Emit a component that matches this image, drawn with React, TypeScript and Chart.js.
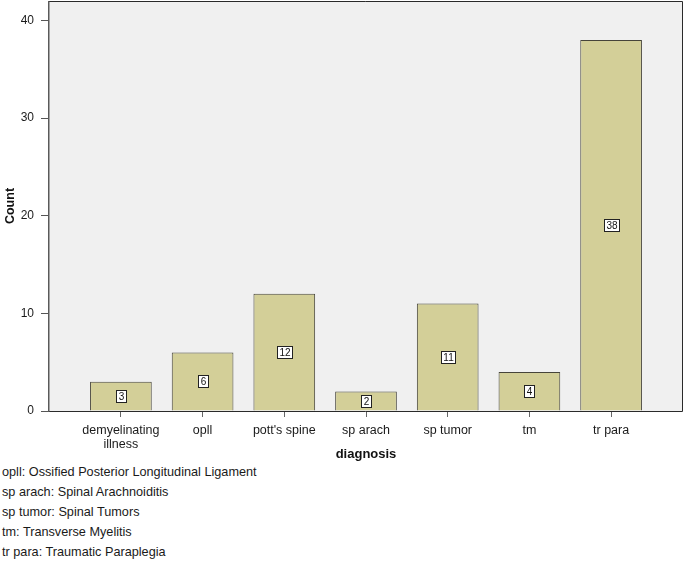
import React, { useEffect, useRef } from "react";
import { Chart, registerables } from "chart.js";

Chart.register(...registerables);

const categories: (string | string[])[] = [
  ["demyelinating", "illness"],
  "opll",
  "pott's spine",
  "sp arach",
  "sp tumor",
  "tm",
  "tr para",
];
const counts = [3, 6, 12, 2, 11, 4, 38];
const yTickValues = [0, 10, 20, 30, 40];
const xTitle = "diagnosis";
const yTitle = "Count";
const footnotes = [
  "opll: Ossified Posterior Longitudinal Ligament",
  "sp arach: Spinal Arachnoiditis",
  "sp tumor: Spinal Tumors",
  "tm: Transverse Myelitis",
  "tr para: Traumatic Paraplegia",
];

const FONT = '"Liberation Sans", Arial, sans-serif';

const framePlugin = {
  id: "plotFrame",
  beforeDraw(chart: any) {
    const { ctx, chartArea } = chart;
    const { left, top, right, bottom } = chartArea;
    ctx.save();
    ctx.fillStyle = "#f0f0f0";
    ctx.fillRect(left, top, right - left, bottom - top);
    ctx.restore();
  },
  afterDatasetsDraw(chart: any) {
    const { ctx, chartArea } = chart;
    const { left, top, right, bottom } = chartArea;
    ctx.save();
    // frame
    ctx.lineWidth = 1;
    ctx.strokeStyle = "#2a2a2a";
    ctx.beginPath();
    ctx.moveTo(left, top + 0.5);
    ctx.lineTo(right - 0.5, top + 0.5);
    ctx.lineTo(right - 0.5, bottom + 0.5);
    ctx.lineTo(left, bottom + 0.5);
    ctx.stroke();
    ctx.strokeStyle = "#5a5a5a";
    ctx.lineWidth = 1.5;
    ctx.beginPath();
    ctx.moveTo(left - 0.25, top);
    ctx.lineTo(left - 0.25, bottom + 1);
    ctx.stroke();

    // value labels
    const meta = chart.getDatasetMeta(0);
    ctx.font = `10px ${FONT}`;
    ctx.textAlign = "center";
    ctx.textBaseline = "middle";
    meta.data.forEach((bar: any, i: number) => {
      const { x, y, base } = bar.getProps(["x", "y", "base"], true);
      const cy = (y + base) / 2;
      const text = String(counts[i]);
      const w = Math.round(ctx.measureText(text).width) + 4;
      const h = 12;
      const bx = Math.round(x - w / 2) + 0.5;
      const by = Math.round(cy - h / 2) + 0.5;
      ctx.fillStyle = "#ffffff";
      ctx.fillRect(bx, by, w, h);
      ctx.strokeStyle = "#222";
      ctx.lineWidth = 1;
      ctx.strokeRect(bx, by, w, h);
      ctx.fillStyle = "#111";
      ctx.fillText(text, bx + w / 2, by + h / 2 + 0.5);
    });
    ctx.restore();
  },
};

function BarChart() {
  const ref = useRef<HTMLCanvasElement | null>(null);
  useEffect(() => {
    if (!ref.current) return;
    const chart = new Chart(ref.current, {
      type: "bar",
      data: {
        datasets: [
          {
            data: counts.map((v, i) => ({ x: i, y: v })),
            backgroundColor: "#d3cf98",
            borderColor: "#46443a",
            borderWidth: 1,
            barPercentage: 0.755,
            categoryPercentage: 1,
          },
        ],
      },
      options: {
        animation: false,
        responsive: false,
        layout: { padding: { top: 1, right: 2, left: 0, bottom: 0 } },
        plugins: { legend: { display: false }, tooltip: { enabled: false } },
        scales: {
          x: {
            type: "linear",
            bounds: "data",
            offset: false,
            min: -0.88,
            max: 6.88,
            afterBuildTicks: (s: any) => {
              s.ticks = categories.map((_, i) => ({ value: i }));
            },
            afterFit: (s: any) => {
              s.height = 51;
              s.paddingLeft = 0;
              s.paddingRight = 0;
            },
            ticks: {
              autoSkip: false,
              maxRotation: 0,
              padding: 7,
              color: "#1a1a1a",
              font: { family: FONT, size: 12.5, lineHeight: 1.1 },
              callback: (v: any) => categories[v as number] as any,
            },
            grid: {
              offset: false,
              drawOnChartArea: false,
              drawTicks: true,
              tickLength: 6,
              color: "#666",
            },
            border: { display: false },
            title: {
              display: true,
              text: xTitle,
              color: "#111",
              font: { family: FONT, size: 13, weight: "bold" },
              padding: { top: 0, bottom: 0 },
            },
          },
          y: {
            type: "linear",
            min: 0,
            max: 42,
            afterBuildTicks: (s: any) => {
              s.ticks = yTickValues.map((v) => ({ value: v }));
            },
            afterFit: (s: any) => {
              s.width = 49;
              s.paddingTop = 0;
              s.paddingBottom = 0;
            },
            ticks: {
              padding: 7,
              color: "#1a1a1a",
              font: { family: FONT, size: 12 },
            },
            grid: {
              drawOnChartArea: false,
              drawTicks: true,
              tickLength: 8,
              color: "#555",
            },
            border: { display: false },
            title: {
              display: true,
              text: yTitle,
              color: "#111",
              font: { family: FONT, size: 12.5, weight: "bold" },
              padding: { top: 3, bottom: 0 },
            },
          },
        },
      },
      plugins: [framePlugin],
    } as any);
    return () => chart.destroy();
  }, []);
  return (
    <canvas
      ref={ref}
      width={685}
      height={462}
      style={{ display: "block", width: 685, height: 462 }}
    />
  );
}

export default function App() {
  return (
    <div
      style={{
        position: "absolute",
        left: 0,
        top: 0,
        width: 685,
        height: 562,
        background: "#ffffff",
        overflow: "hidden",
      }}
    >
      <BarChart />
      <div
        style={{
          position: "absolute",
          left: 2,
          top: 462,
          fontFamily: FONT,
          fontSize: 12.7,
          lineHeight: "20px",
          color: "#1a1a1a",
        }}
      >
        {footnotes.map((t) => (
          <div key={t}>{t}</div>
        ))}
      </div>
    </div>
  );
}
